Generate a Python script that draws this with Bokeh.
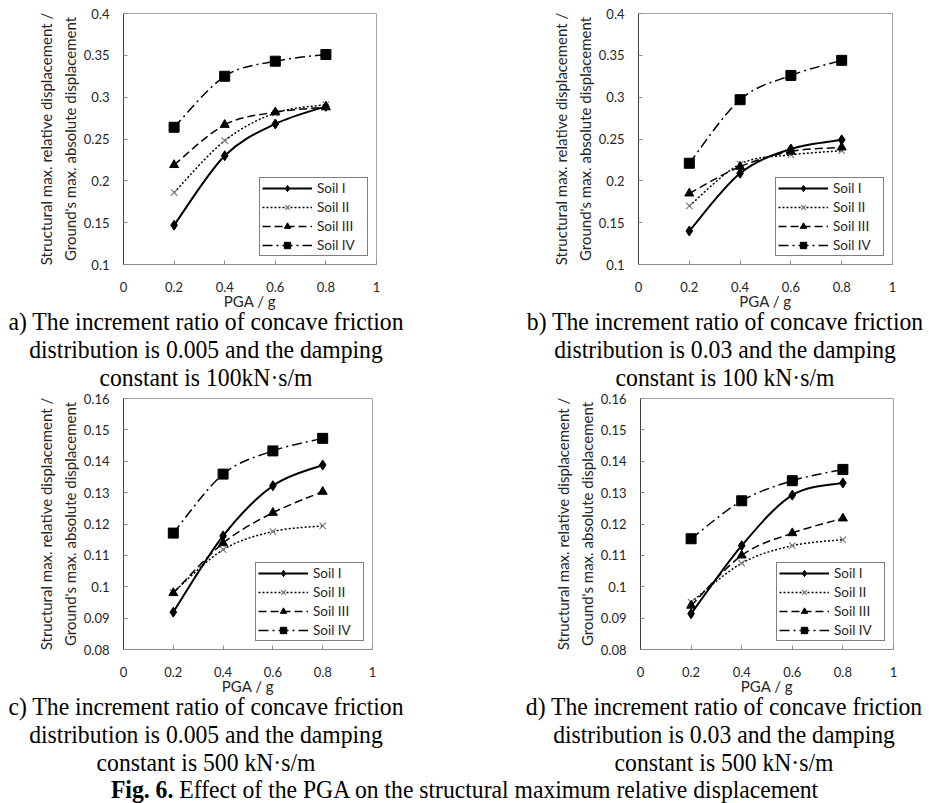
import math
from bokeh.plotting import figure
from bokeh.models import (Range1d, FixedTicker, Legend, LegendItem, Div, ColumnDataSource,
                          LinearAxis)
from bokeh.layouts import column, row
from bokeh.embed import file_html
from bokeh.resources import INLINE

# ---------------- data ----------------
pga = [0.2, 0.4, 0.6, 0.8]
soil_names = ["Soil I", "Soil II", "Soil III", "Soil IV"]

# a) ratio 0.005, damping 100 kN·s/m
a_soil1 = [0.147, 0.230, 0.268, 0.289]
a_soil2 = [0.186, 0.248, 0.281, 0.291]
a_soil3 = [0.219, 0.267, 0.282, 0.288]
a_soil4 = [0.264, 0.325, 0.343, 0.351]

# b) ratio 0.03, damping 100 kN·s/m
b_soil1 = [0.140, 0.209, 0.238, 0.249]
b_soil2 = [0.170, 0.220, 0.231, 0.236]
b_soil3 = [0.185, 0.217, 0.235, 0.240]
b_soil4 = [0.221, 0.297, 0.326, 0.344]

# c) ratio 0.005, damping 500 kN·s/m
c_soil1 = [0.0919, 0.1162, 0.1322, 0.1388]
c_soil2 = [0.0982, 0.1118, 0.1176, 0.1194]
c_soil3 = [0.0980, 0.1139, 0.1236, 0.1303]
c_soil4 = [0.1171, 0.1359, 0.1433, 0.1473]

# d) ratio 0.03, damping 500 kN·s/m
d_soil1 = [0.0914, 0.1131, 0.1292, 0.1331]
d_soil2 = [0.0951, 0.1075, 0.1131, 0.1150]
d_soil3 = [0.0940, 0.1100, 0.1171, 0.1218]
d_soil4 = [0.1153, 0.1274, 0.1338, 0.1374]

x_ticks = [0, 0.2, 0.4, 0.6, 0.8, 1]
x_tick_labels = ["0", "0.2", "0.4", "0.6", "0.8", "1"]
y_ticks_top = [0.1, 0.15, 0.2, 0.25, 0.3, 0.35, 0.4]
y_tick_labels_top = ["0.1", "0.15", "0.2", "0.25", "0.3", "0.35", "0.4"]
y_ticks_bot = [0.08, 0.09, 0.1, 0.11, 0.12, 0.13, 0.14, 0.15, 0.16]
y_tick_labels_bot = ["0.08", "0.09", "0.1", "0.11", "0.12", "0.13", "0.14", "0.15", "0.16"]

x_title = "PGA / g"
y_title_1 = "Structural max. relative displacement /"
y_title_2 = "Ground's max. absolute displacement"

caption_a = ["a) The increment ratio of concave friction",
             "distribution is 0.005 and the damping",
             "constant is 100kN\u00b7s/m"]
caption_b = ["b) The increment ratio of concave friction",
             "distribution is 0.03 and the damping",
             "constant is 100 kN\u00b7s/m"]
caption_c = ["c) The increment ratio of concave friction",
             "distribution is 0.005 and the damping",
             "constant is 500 kN\u00b7s/m"]
caption_d = ["d) The increment ratio of concave friction",
             "distribution is 0.03 and the damping",
             "constant is 500 kN\u00b7s/m"]
fig_title_bold = "Fig. 6."
fig_title_rest = "Effect of the PGA on the structural maximum relative displacement"

# ---------------- styles ----------------
STYLES = [
    dict(line_width=2.0, line_dash="solid", marker="diamond", size=10, color="black", mline=1),
    dict(line_width=1.5, line_dash="2 2", marker="x", size=9, color="#7f7f7f", mline=1.2),
    dict(line_width=1.5, line_dash="8 4", marker="triangle", size=9, color="black", mline=1),
    dict(line_width=1.5, line_dash="10 4 2 4", marker="square", size=10, color="black", mline=1),
]
SANS = "Lato"
SERIF = "Liberation Serif"


def smooth_source(xs, ys):
    """Bezier control points (Catmull-Rom style) between the read data points."""
    n = len(xs)
    d = dict(x0=[], y0=[], x1=[], y1=[], cx0=[], cy0=[], cx1=[], cy1=[])
    for i in range(n - 1):
        xa, ya = (xs[i - 1], ys[i - 1]) if i > 0 else (xs[i], ys[i])
        xb, yb = (xs[i + 2], ys[i + 2]) if i + 2 < n else (xs[i + 1], ys[i + 1])
        d["x0"].append(xs[i]); d["y0"].append(ys[i])
        d["x1"].append(xs[i + 1]); d["y1"].append(ys[i + 1])
        d["cx0"].append(xs[i] + (xs[i + 1] - xa) / 6.0)
        d["cy0"].append(ys[i] + (ys[i + 1] - ya) / 6.0)
        d["cx1"].append(xs[i + 1] - (xb - xs[i]) / 6.0)
        d["cy1"].append(ys[i + 1] - (yb - ys[i]) / 6.0)
    return ColumnDataSource(d)


def make_panel(series, y_ticks, y_labels, width, height, left, right, top, bottom):
    p = figure(width=width, height=height, output_backend="svg", toolbar_location=None,
               x_range=Range1d(0, 1), y_range=Range1d(y_ticks[0], y_ticks[-1]),
               min_border_left=left, min_border_right=right, min_border_top=top,
               min_border_bottom=bottom)
    p.xgrid.visible = False
    p.ygrid.visible = False
    p.outline_line_color = "#a6a6a6"
    p.outline_line_width = 1
    p.background_fill_color = "white"
    p.border_fill_color = "white"

    p.xaxis.ticker = FixedTicker(ticks=x_ticks)
    p.xaxis.major_label_overrides = dict(zip(x_ticks, x_tick_labels))
    p.yaxis.ticker = FixedTicker(ticks=y_ticks)
    p.yaxis.major_label_overrides = dict(zip(y_ticks, y_labels))
    for ax in (p.xaxis[0], p.yaxis[0]):
        ax.major_tick_in = 4
        ax.major_tick_out = 0
        ax.minor_tick_in = 0
        ax.minor_tick_out = 0
        ax.major_label_text_font = SANS
        ax.major_label_text_font_size = "13px"
        ax.major_label_text_color = "#262626"
        ax.major_label_text_line_height = 1.0
        ax.major_tick_line_color = "#8c8c8c"
        ax.axis_label_text_font = SANS
        ax.axis_label_text_font_style = "normal"
        ax.axis_label_text_color = "#262626"
        ax.axis_label_text_line_height = 1.0
    p.xaxis.axis_line_color = "#8c8c8c"
    p.yaxis.axis_line_color = "#404040"
    p.xaxis.major_label_standoff = 17
    p.yaxis.major_label_standoff = 14
    p.xaxis.axis_label = x_title
    p.xaxis.axis_label_text_font_size = "15px"
    p.xaxis.axis_label_standoff = -3
    # second title line sits on the real y axis, first line on an outer label-only axis
    p.yaxis.axis_label = y_title_2
    p.yaxis.axis_label_text_font_size = "15px"
    p.yaxis.axis_label_standoff = 2
    outer = LinearAxis(ticker=FixedTicker(ticks=[]), axis_label=y_title_1,
                       axis_line_color=None, major_tick_line_color=None,
                       minor_tick_line_color=None, major_label_standoff=0,
                       major_tick_in=0, major_tick_out=0, minor_tick_in=0, minor_tick_out=0,
                       axis_label_standoff=3, axis_label_text_font=SANS,
                       axis_label_text_font_size="15px", axis_label_text_font_style="normal",
                       axis_label_text_color="#262626", axis_label_text_line_height=1.0)
    p.add_layout(outer, "left")

    items = []
    for name, ys, st in zip(soil_names, series, STYLES):
        src = smooth_source(pga, ys)
        r_line = p.bezier(x0="x0", y0="y0", x1="x1", y1="y1", cx0="cx0", cy0="cy0",
                          cx1="cx1", cy1="cy1", source=src, line_color="black",
                          line_width=st["line_width"], line_dash=st["line_dash"])
        r_pts = p.scatter(pga, ys, marker=st["marker"], size=st["size"],
                          line_color=st["color"], fill_color=st["color"],
                          line_width=st["mline"])
        items.append(LegendItem(label=name, renderers=[r_line, r_pts]))

    legend = Legend(items=items, location="bottom_right", margin=8, padding=2, spacing=3,
                    glyph_width=50, glyph_height=16, label_height=16, label_width=48,
                    label_standoff=5, border_line_color="black", border_line_width=1,
                    label_text_font=SANS, label_text_font_size="13.5px",
                    label_text_color="#262626", background_fill_color="white",
                    background_fill_alpha=1.0)
    p.add_layout(legend)
    return p


def caption_div(lines, width, height, cx):
    inner_w = 460
    parts = []
    for ln in lines:
        parts.append('<div style="width:%dpx;margin-left:%dpx;white-space:nowrap;'
                     'position:relative;top:-4px;'
                     'text-align:center;transform:scaleX(0.91);">%s</div>'
                     % (inner_w, cx - inner_w // 2, ln))
    return Div(text="".join(parts), width=width, height=height, margin=(0, 0, 0, 0),
               styles={"font-family": SERIF, "font-size": "26px", "line-height": "28px",
                       "color": "black", "padding": "0px"})


fa = make_panel([a_soil1, a_soil2, a_soil3, a_soil4], y_ticks_top, y_tick_labels_top,
                515, 312, 123, 139, 13, 44)
fb = make_panel([b_soil1, b_soil2, b_soil3, b_soil4], y_ticks_top, y_tick_labels_top,
                414, 312, 123, 37, 13, 44)
fc = make_panel([c_soil1, c_soil2, c_soil3, c_soil4], y_ticks_bot, y_tick_labels_bot,
                515, 305, 123, 143, 6, 43)
fd = make_panel([d_soil1, d_soil2, d_soil3, d_soil4], y_ticks_bot, y_tick_labels_bot,
                414, 305, 125, 36, 6, 43)

cap_a = caption_div(caption_a, 515, 80, 206)
cap_b = caption_div(caption_b, 414, 80, 210)
cap_c = caption_div(caption_c, 515, 80, 206)
cap_d = caption_div(caption_d, 414, 80, 209)

title_html = ('<div style="width:929px;white-space:nowrap;text-align:center;'
              'transform:scaleX(0.91);"><b>%s</b> %s</div>' % (fig_title_bold, fig_title_rest))
title_div = Div(text=title_html, width=929, height=26, margin=(0, 0, 0, 0),
                styles={"font-family": SERIF, "font-size": "26px", "line-height": "26px",
                        "color": "black", "padding": "0px"})

layout = column(row(fa, fb), row(cap_a, cap_b), row(fc, fd), row(cap_c, cap_d), title_div)
open("out.html", "w").write(file_html(layout, INLINE))
